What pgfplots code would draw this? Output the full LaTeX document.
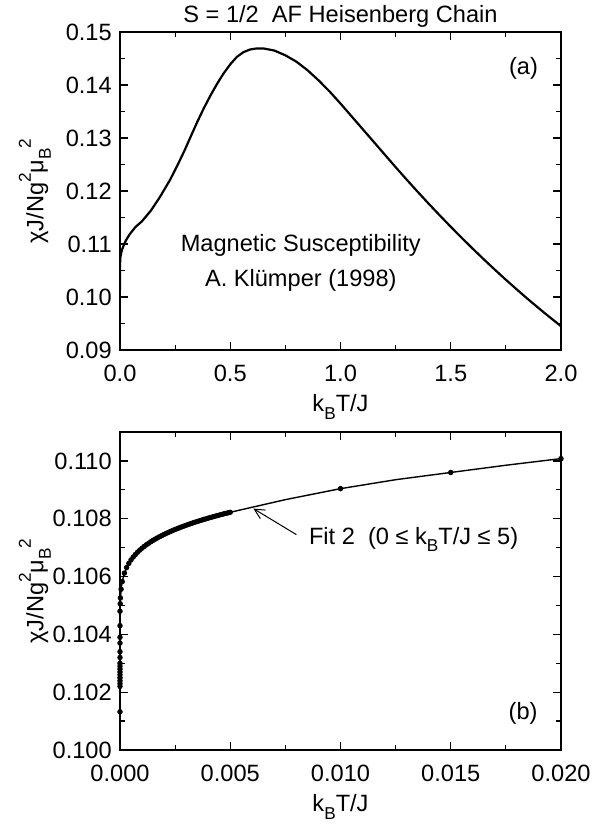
\documentclass[border=0pt]{standalone}
\usepackage{fontspec}
\setmainfont{Liberation Sans}
\usepackage{pgfplots}
\pgfplotsset{compat=1.18}
\usetikzlibrary{arrows.meta}
\newcommand{\sub}[1]{\raisebox{-0.6ex}{\fontsize{8.6}{9}\selectfont #1}}
\newcommand{\sups}[1]{\raisebox{1.0ex}{\fontsize{8.6}{9}\selectfont #1}}
\newcommand{\fs}{\fontsize{11.8}{13}\selectfont}
\pgfplotstableread{
T chi
0 0.10132
0.0001 0.1058
0.001 0.1070
0.003 0.1078
0.006 0.1084
0.01 0.1090
0.02 0.1101
0.03 0.1109
0.045 0.1119
0.07 0.1132
0.1 0.1143
0.14 0.1163
0.18 0.1188
0.227 0.1221
0.26 0.1248
0.29 0.1274
0.32 0.1302
0.35 0.1330
0.38 0.1356
0.41 0.1380
0.44 0.1402
0.47 0.1422
0.50 0.1439
0.53 0.1453
0.56 0.1462
0.59 0.1467
0.62 0.1469
0.65 0.1469
0.70 0.1465
0.75 0.1456
0.80 0.1444
0.85 0.1428
0.90 0.1409
0.95 0.1388
1.00 0.1365
1.05 0.13410
1.10 0.13170
1.15 0.12930
1.20 0.12690
1.25 0.12450
1.30 0.12215
1.35 0.11985
1.40 0.11760
1.45 0.11540
1.50 0.11325
1.55 0.11115
1.60 0.10910
1.65 0.10710
1.70 0.10515
1.75 0.10325
1.80 0.10140
1.85 0.09960
1.90 0.09785
1.95 0.09615
2.00 0.09450
}\klumper
\pgfplotstableread{
T chi
0 0.10132
0 0.10220
0 0.10230
0 0.10240
0 0.10250
0 0.10260
0 0.10270
0 0.10280
0 0.10290
0 0.10300
0 0.10320
0 0.10340
0 0.10370
0 0.10390
0 0.10430
0 0.10480
0.00001 0.10506
0.00002 0.10526
0.00005 0.10556
0.0001 0.105824
0.0002 0.106119
0.0003 0.106311
0.0004 0.106456
0.0005 0.106575
0.0006 0.106676
0.0007 0.106765
0.0008 0.106844
0.0009 0.106916
0.0010 0.106982
0.0011 0.107043
0.0012 0.107100
0.0013 0.107153
0.0014 0.107203
0.0015 0.107251
0.0016 0.107296
0.0017 0.107339
0.0018 0.107380
0.0019 0.107419
0.0020 0.107457
0.0021 0.107494
0.0022 0.107529
0.0023 0.107563
0.0024 0.107596
0.0025 0.107628
0.0026 0.107659
0.0027 0.107689
0.0028 0.107718
0.0029 0.107746
0.0030 0.107774
0.0031 0.107801
0.0032 0.107828
0.0033 0.107854
0.0034 0.107879
0.0035 0.107903
0.0036 0.107928
0.0037 0.107951
0.0038 0.107975
0.0039 0.107997
0.0040 0.108020
0.0041 0.108042
0.0042 0.108063
0.0043 0.108084
0.0044 0.108105
0.0045 0.108126
0.0046 0.108146
0.0047 0.108166
0.0048 0.108185
0.0049 0.108204
0.0050 0.108223
0.0100 0.10904
0.0150 0.10960
0.0200 0.11008
}\lowT
\pgfplotstableread{
T chi
0 0.10132
0 0.10480
0.00001 0.10506
0.00005 0.10556
0.0001 0.105824
0.0002 0.106119
0.0004 0.106456
0.0007 0.106765
0.0010 0.106982
0.0015 0.107251
0.0020 0.107457
0.0025 0.107628
0.0030 0.107774
0.0035 0.107903
0.0040 0.108020
0.0045 0.108126
0.0050 0.108223
0.0075 0.10866
0.0100 0.10904
0.0125 0.10935
0.0150 0.10960
0.0175 0.10985
0.0200 0.11008
}\fittwo
\begin{document}
\fs
\begin{tikzpicture}
\pgfplotsset{
  every axis/.append style={
    scale only axis, width=220.5pt, height=159pt,
    tick align=inside, scaled ticks=false,
    axis line style={line width=0.6pt},
    every tick/.style={black, line width=0.6pt},
    major tick length=3.8pt, minor tick length=2.6pt,
    /pgf/number format/assume math mode=true,
    tick label style={font=\fs},
    label style={font=\fs},
    xticklabel style={yshift=-3.3pt},
    minor x tick num=1, minor y tick num=1,
    xlabel style={at={(axis description cs:0.5,0)}, anchor=center, yshift=-28.5pt},
    ylabel style={at={(axis description cs:-0.193,0.5)}, anchor=center},
  }
}
\begin{axis}[at={(60pt,237.5pt)}, anchor=south west,
  xmin=0, xmax=2, ymin=0.09, ymax=0.15,
  xtick={0,0.5,1,1.5,2},
  ytick={0.09,0.10,0.11,0.12,0.13,0.14,0.15},
  xticklabel style={/pgf/number format/.cd, fixed, fixed zerofill, precision=1},
  yticklabel style={/pgf/number format/.cd, fixed, fixed zerofill, precision=2},
  every axis title shift=0pt,
  title={S = 1/2\ \ AF Heisenberg Chain},
  title style={at={(axis description cs:0.5,1)}, anchor=base, yshift=4.8pt, inner sep=0pt, font=\fs},
  xlabel={k\sub{B}T/J},
  ylabel={χJ/Ng\sups{2}μ\sub{B}\sups{2}},
]
\addplot[black, line width=1.1pt] table[x=T, y=chi] {\klumper};
\node at (axis cs:1.83,0.1432) {(a)};
\node at (axis cs:0.82,0.1098) {Magnetic Susceptibility};
\node at (axis cs:0.82,0.1032) {A. Klümper (1998)};
\end{axis}
\begin{axis}[at={(60pt,37.5pt)}, anchor=south west,
  xmin=0, xmax=0.02, ymin=0.1, ymax=0.111,
  xtick={0,0.005,0.010,0.015,0.020},
  ytick={0.100,0.102,0.104,0.106,0.108,0.110},
  xticklabel style={/pgf/number format/.cd, fixed, fixed zerofill, precision=3},
  yticklabel style={/pgf/number format/.cd, fixed, fixed zerofill, precision=3},
  xlabel={k\sub{B}T/J},
  ylabel={χJ/Ng\sups{2}μ\sub{B}\sups{2}},
]
\addplot[black, line width=0.7pt] table[x=T, y=chi] {\fittwo};
\addplot[black, only marks, mark=*, mark size=1.15pt] table[x=T, y=chi] {\lowT};
\draw[black, line width=0.5pt, -{Straight Barb[length=5pt,width=5pt]}] (axis cs:0.0080,0.10745) -- (axis cs:0.00605,0.10835);
\node[anchor=west] at (axis cs:0.0082,0.10728) {Fit 2\ \ (0 ≤ k\sub{B}T/J ≤ 5)};
\node at (axis cs:0.01828,0.10128) {(b)};
\end{axis}
\pgfresetboundingbox
\useasboundingbox (0,0) rectangle (305pt,412.5pt);
\end{tikzpicture}
\end{document}
